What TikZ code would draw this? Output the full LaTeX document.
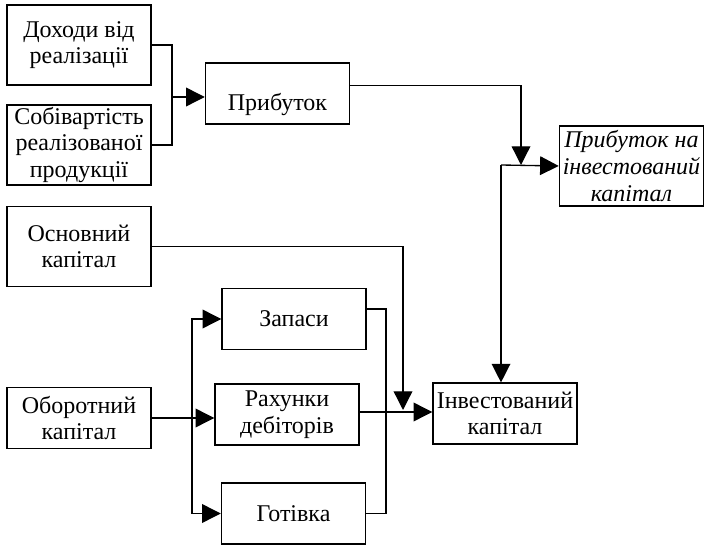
\documentclass[tikz,border=0pt]{standalone}
\usepackage{fontspec}
\setmainfont{Liberation Serif}
\usetikzlibrary{arrows.meta, positioning, calc}
\tikzset{
  blk/.style={
    rectangle, draw=black, line width=1.1pt, fill=white,
    minimum width=108pt, minimum height=45.5pt, inner sep=1pt,
    align=center, font=\fontsize{18}{20}\selectfont
  },
  tall/.style={minimum height=60pt},
  arr/.style={-{Triangle[length=14pt,width=14pt]}, draw=black, line width=1pt},
  ln/.style={draw=black, line width=1pt}
}
\begin{document}
\begin{tikzpicture}[x=0.75pt, y=-0.75pt]
  \useasboundingbox (0,0) rectangle (704,545);

  % Boxes
  \node[blk, tall] (doh) at (79, 45)    {Доходи від\\реалізації};
  \node[blk, tall] (sob) at (79, 145)   {Собівартість\\реалізованої\\продукції};
  \node[blk, text height=25pt, text depth=0pt] (prib) at (277.5, 93.5) {Прибуток};
  \node[blk, tall, font=\fontsize{18}{20}\selectfont\itshape]
        (roi) at (631.5, 166) {Прибуток на\\інвестований\\капітал};
  \node[blk, tall] (osn) at (79, 246.5) {Основний\\капітал};
  \node[blk] (obor) at (79, 418)        {Оборотний\\капітал};
  \node[blk] (zap) at (294, 319)        {Запаси};
  \node[blk] (rah) at (287, 414.5)      {Рахунки\\дебіторів};
  \node[blk] (got) at (293.5, 513.5)    {Готівка};
  \node[blk] (inv) at (505, 413.5)      {Інвестований\\капітал};

  % Junctions
  \coordinate (j1) at (172, 97);
  \coordinate (j2) at (521, 165);
  \coordinate (j3) at (501, 165);
  \coordinate (j4) at (403, 410);
  \coordinate (sp) at (192, 418);
  \coordinate (j6) at (386, 412);

  % Connectors
  \draw[ln] (doh.east) -| (j1);
  \draw[ln] (sob.east) -| (j1);
  \draw[arr] (j1) -- (j1 -| prib.west);
  \draw[arr] ([yshift=6pt]prib.east) -| (j2);
  \draw[arr] (j3) -- (roi.west);
  \draw[arr] (j3) -- (j3 |- inv.north);
  \draw[arr] (osn.east) -| (j4);
  \draw[arr] (obor.east) -- (obor.east -| rah.west);
  \draw[arr] (sp) |- (zap.west);
  \draw[arr] (sp) |- (got.west);
  \draw[ln] ([yshift=7.5pt]zap.east) -| (j6);
  \draw[ln] (got.east) -| (j6);
  \draw[arr] (rah.east |- j6) -- (j6 -| inv.west);
\end{tikzpicture}
\end{document}
